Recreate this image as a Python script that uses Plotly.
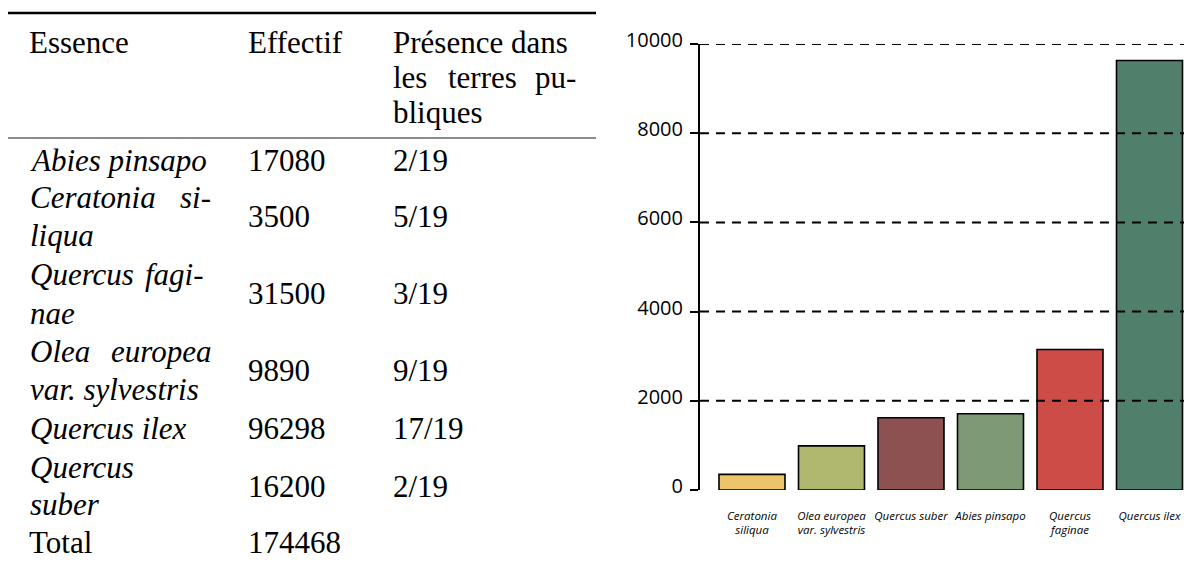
import plotly.graph_objects as go

# ---------------- data ----------------
# table (left)
table_header = ["Essence", "Effectif", "Présence dans les terres publiques"]
table_species = ["Abies pinsapo", "Ceratonia siliqua", "Quercus faginae",
                 "Olea europea var. sylvestris", "Quercus ilex", "Quercus suber"]
table_effectif = ["17080", "3500", "31500", "9890", "96298", "16200"]
table_presence = ["2/19", "5/19", "3/19", "9/19", "17/19", "2/19"]
total_label = "Total"
total_value = "174468"

# bar chart (right)
bar_categories = ["Ceratonia<br>siliqua", "Olea europea<br>var. sylvestris", "Quercus suber",
                  "Abies pinsapo", "Quercus<br>faginae", "Quercus ilex"]
bar_values = [350, 989, 1620, 1708, 3150, 9630]
bar_colors = ["#ECC46A", "#B0B870", "#8E5151", "#7D9A74", "#CD4C48", "#50806C"]
y_ticks = [0, 2000, 4000, 6000, 8000, 10000]
y_ticklabels = ["0", "2000", "4000", "6000", "8000", "10000"]
grid_values = [2000, 4000, 6000, 8000, 10000]

# ---------------- layout helpers ----------------
W, H = 1184, 565
def px(x):
    return x / W
def py(y):
    return 1 - y / H

SERIF = "Liberation Serif"
FS = 31

fig = go.Figure()

fig.add_trace(go.Bar(
    x=list(range(len(bar_values))), y=bar_values,
    marker=dict(color=bar_colors, line=dict(color="black", width=1.6)),
    width=0.83, showlegend=False, hoverinfo="skip",
))

annotations = []
def txt(s, x, y, anchor="left", italic=False):
    if italic:
        s = "<i>" + s + "</i>"
    annotations.append(dict(text=s, x=px(x), y=py(y), xref="paper", yref="paper",
                            xanchor=anchor, yanchor="middle", showarrow=False,
                            font=dict(family=SERIF, size=FS, color="black")))

# header
COL1, COL2, COL3 = 27, 246, 391
COL1_R, COL3_R = 213, 578
h = table_header[2].split()
txt(table_header[0], COL1, 42)
txt(table_header[1], COL2, 42)
txt(h[0] + " " + h[1], COL3, 42)
txt(h[2], COL3, 78)
txt(h[3], 482, 78, anchor="center")
txt(h[4][:2] + "-", COL3_R, 78, anchor="right")
txt(h[4][2:], COL3, 113)

# rows
sp = [s.split() for s in table_species]
# Abies pinsapo
txt(table_species[0], 28, 160, italic=True)
txt(table_effectif[0], COL2, 160)
txt(table_presence[0], COL3, 160)
# Ceratonia siliqua
txt(sp[1][0], 28, 197, italic=True)
txt(sp[1][1][:2] + "-", COL1_R, 197, anchor="right", italic=True)
txt(sp[1][1][2:], 28, 235, italic=True)
txt(table_effectif[1], COL2, 216)
txt(table_presence[1], COL3, 216)
# Quercus faginae
txt(sp[2][0], 28, 274, italic=True)
txt(sp[2][1][:4] + "-", 206, 274, anchor="right", italic=True)
txt(sp[2][1][4:], 28, 313, italic=True)
txt(table_effectif[2], COL2, 293)
txt(table_presence[2], COL3, 293)
# Olea europea var. sylvestris
txt(sp[3][0], 28, 351, italic=True)
txt(sp[3][1], COL1_R, 351, anchor="right", italic=True)
txt(sp[3][2] + " " + sp[3][3], 28, 389, italic=True)
txt(table_effectif[3], COL2, 370)
txt(table_presence[3], COL3, 370)
# Quercus ilex
txt(table_species[4], 28, 428, italic=True)
txt(table_effectif[4], COL2, 428)
txt(table_presence[4], COL3, 428)
# Quercus suber
txt(sp[5][0], 28, 467, italic=True)
txt(sp[5][1], 28, 505, italic=True)
txt(table_effectif[5], COL2, 486)
txt(table_presence[5], COL3, 486)
# total
txt(total_label, COL1, 542)
txt(total_value, COL2, 542)

shapes = [
    dict(type="line", xref="paper", yref="paper", x0=px(8), x1=px(596), y0=py(13), y1=py(13),
         line=dict(color="black", width=2.6)),
    dict(type="line", xref="paper", yref="paper", x0=px(8), x1=px(596), y0=py(138), y1=py(138),
         line=dict(color="#666666", width=1.4)),
]
for v in grid_values:
    shapes.append(dict(type="line", xref="x domain", yref="y", x0=0, x1=1, y0=v, y1=v,
                       layer="above", line=dict(color="black", width=2, dash="9px,7px")))

fig.update_layout(
    width=W, height=H, margin=dict(l=0, r=0, t=0, b=0, autoexpand=False),
    paper_bgcolor="white", plot_bgcolor="white",
    annotations=annotations, shapes=shapes,
    xaxis=dict(domain=[px(700), 1], range=[-0.654, 5.434],
               tickvals=list(range(len(bar_categories))),
               ticktext=["<i>" + c + "</i>" for c in bar_categories],
               showline=False, showgrid=False, zeroline=False, ticks="",
               ticklabelstandoff=17,
               tickfont=dict(family="Open Sans", size=11.5, color="black")),
    yaxis=dict(domain=[py(490), py(44)], range=[0, 10000],
               tickvals=y_ticks, ticktext=y_ticklabels,
               showline=True, linecolor="black", linewidth=2,
               ticks="outside", ticklen=8, tickwidth=2, tickcolor="black",
               ticklabelshift=-4, ticklabelstandoff=3,
               showgrid=False, zeroline=False,
               tickfont=dict(family="Open Sans", size=20, color="black")),
)

fig.write_html("out.html", config={"displayModeBar": False},
               post_script="document.body.style.margin='0';")
